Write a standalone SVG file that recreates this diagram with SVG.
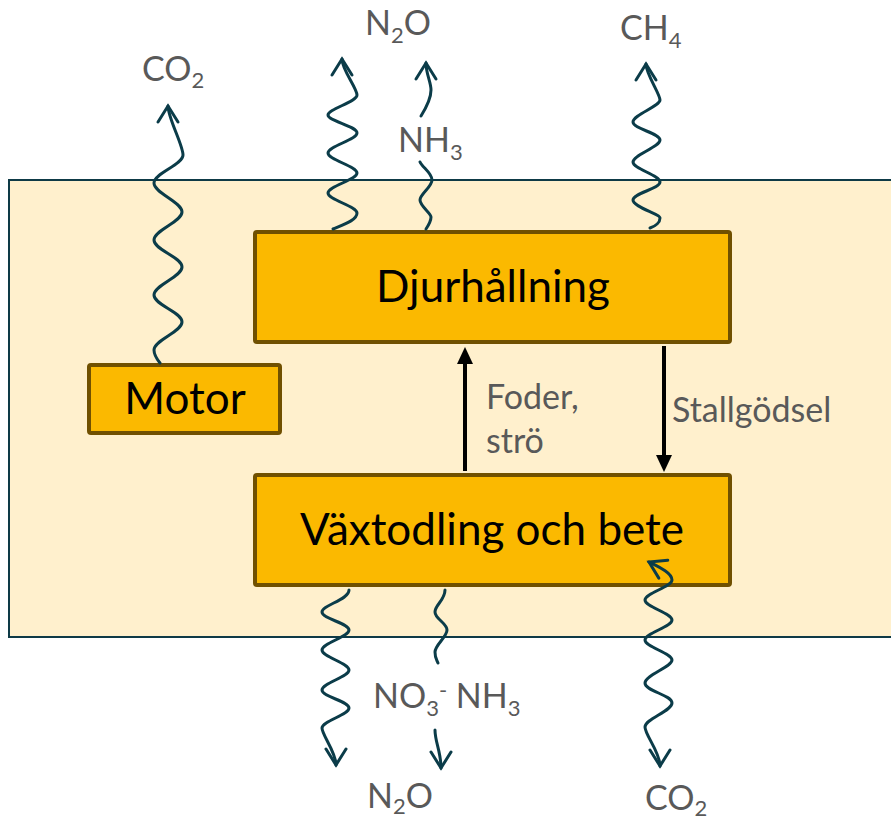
<svg xmlns="http://www.w3.org/2000/svg" width="891" height="821" viewBox="0 0 891 821">
<style>
.box{fill:#FBB900;stroke:#705000;stroke-width:4}
.bt{font-family:Lato,"Open Sans","Liberation Sans",sans-serif;font-size:44px;fill:#000;text-anchor:middle}
.lb{font-family:Lato,"Open Sans","Liberation Sans",sans-serif;font-size:34px;fill:#595959}
.sub{font-size:22px}
.wave{fill:none;stroke:#0B3C49;stroke-width:3;stroke-linecap:round;stroke-linejoin:round}
.flow{fill:none;stroke:#000;stroke-width:4}
</style>
<defs>
<marker id="wh" markerUnits="userSpaceOnUse" markerWidth="40" markerHeight="40" orient="auto-start-reverse" overflow="visible">
<path d="M-16,-10 L0,0 L-16,10" fill="none" stroke="#0B3C49" stroke-width="3" stroke-linecap="round" stroke-linejoin="miter"/>
</marker>
<marker id="bh" markerUnits="userSpaceOnUse" markerWidth="40" markerHeight="40" orient="auto" overflow="visible">
<path d="M17,0 L0,-8 L0,8 Z" fill="#000"/>
</marker>
</defs>
<rect id="boundary" x="9" y="180" width="900" height="457" fill="#FFF0CD" stroke="#0E3A46" stroke-width="2"/>
<g id="djurhallning">
<rect class="box" x="255" y="232" width="475" height="110" rx="2"/>
<text class="bt" x="493" y="302">Djurhållning</text>
</g>
<g id="motor">
<rect class="box" x="89" y="365" width="191" height="68" rx="2"/>
<text class="bt" x="185" y="414">Motor</text>
</g>
<g id="vaxtodling">
<rect class="box" x="255" y="475" width="475" height="110" rx="2"/>
<text class="bt" x="492" y="545">Växtodling och bete</text>
</g>
<g id="connectors">
<path class="wave" marker-end="url(#wh)" d="M160,363 C156,358 154,354 154,350 C154,340 182,332 182,322 S154,305 154,295 S182,277 182,267 S154,250 154,240 S182,222 182,212 S154,193 154,183 S183,165 183,155 S168,118 168,106"/>
<path class="wave" marker-end="url(#wh)" d="M333,229 C345,224 357,220 357,213 S328,200 328,193 S357,180 357,173 S328,160 328,153 S357,140 357,133 S328,121 328,115 S357,102 357,95 S342,70 342,59"/>
<path class="wave" d="M426,229 C428,226 431,221 431,217 S420,206 420,200 S432,187 432,180 S422,167 420,162"/>
<path class="wave" marker-end="url(#wh)" d="M421,116 C426,108 431,98 431,90 S426,74 426,63"/>
<path class="wave" marker-end="url(#wh)" d="M650,228 C656,226 660,222 660,218 S633,207 633,200 S660,189 660,182 S633,169 633,162 S660,147 660,140 S633,129 633,122 S660,106 660,100 S646,74 646,64"/>
<path class="wave" marker-end="url(#wh)" d="M349,590 C349,600 322,605 322,612 S349,623 349,630 S322,643 322,650 S349,663 349,670 S322,683 322,690 S349,701 349,708 S322,721 322,728 S336,752 336,765"/>
<path class="wave" d="M445,590 C445,600 435,605 435,612 S447,623 447,630 S435,645 435,652 S437,660 438,663"/>
<path class="wave" marker-end="url(#wh)" d="M435,730 C435,742 441,752 441,768"/>
<path class="wave" marker-start="url(#wh)" marker-end="url(#wh)" d="M649,562 C659,567 672,573 672,580 S645,593 645,600 S672,613 672,620 S645,633 645,640 S672,653 672,660 S645,675 645,683 S672,695 672,703 S645,719 645,727 S660,752 660,766"/>
<path class="flow" marker-end="url(#bh)" d="M465,471 L465,364"/>
<path class="flow" marker-end="url(#bh)" d="M664,346 L664,455"/>
</g>
<g id="labels">
<text class="lb" x="142" y="81">CO<tspan class="sub" dy="7">2</tspan></text>
<text class="lb" x="365" y="35">N<tspan class="sub" dy="8">2</tspan><tspan dy="-8">O</tspan></text>
<text class="lb" x="398" y="152">NH<tspan class="sub" dy="8">3</tspan></text>
<text class="lb" x="620" y="40">CH<tspan class="sub" dy="8">4</tspan></text>
<text class="lb" x="486" y="409">Foder,</text>
<text class="lb" x="486" y="453">strö</text>
<text class="lb" x="672" y="422">Stallgödsel</text>
<text class="lb" x="373" y="708">NO<tspan class="sub" dy="8">3</tspan><tspan class="sub" dy="-18">-</tspan><tspan dy="10"> NH</tspan><tspan class="sub" dy="8">3</tspan></text>
<text class="lb" x="367" y="808">N<tspan class="sub" dy="6">2</tspan><tspan dy="-6">O</tspan></text>
<text class="lb" x="645" y="810">CO<tspan class="sub" dy="6">2</tspan></text>
</g>
</svg>
